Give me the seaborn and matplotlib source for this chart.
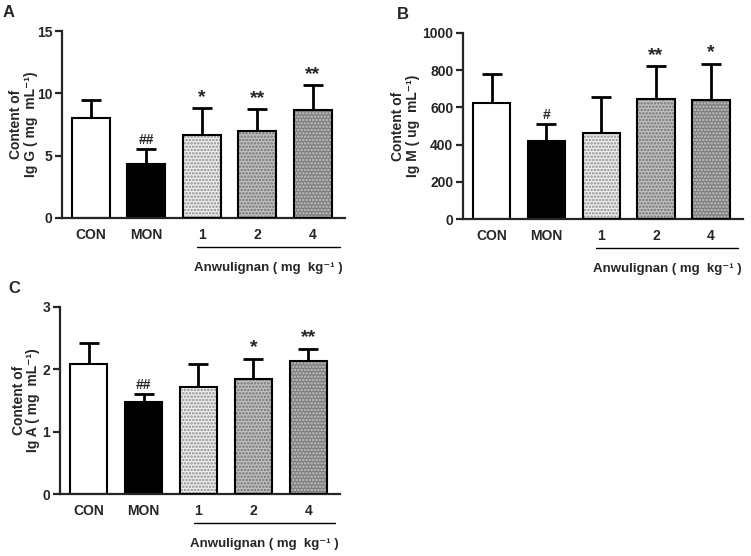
import matplotlib
matplotlib.use('Agg')
import matplotlib.pyplot as plt
from matplotlib.patches import Rectangle
import pandas as pd
import seaborn as sns

sns.set_style('ticks')
plt.rcParams['font.family'] = ['Liberation Sans', 'DejaVu Sans']
plt.rcParams['font.weight'] = 'bold'
plt.rcParams['hatch.linewidth'] = 1.2

groups = ['CON', 'MON', '1', '2', '4']

igg_mean = [8.0, 4.3, 6.65, 7.0, 8.65]
igg_sd = [1.45, 1.2, 2.15, 1.75, 2.0]
igg_mark = ['', '##', '*', '**', '**']

igm_mean = [625, 420, 460, 645, 640]
igm_sd = [155, 90, 195, 175, 195]
igm_mark = ['', '#', '', '**', '*']

iga_mean = [2.08, 1.47, 1.72, 1.85, 2.14]
iga_sd = [0.34, 0.13, 0.36, 0.32, 0.19]
iga_mark = ['', '##', '', '*', '**']

face = ['white', 'black', '#efefef', '#c2c2c2', '#7c7c7c']
dots = [None, None, '#8a8a8a', '#6e6e6e', '#c6c6c6']


def panel(ax, mean, sd, mark, ymax, step, ylabel, letter, marg, labx):
    df = pd.DataFrame({'group': groups, 'value': mean})
    sns.barplot(data=df, x='group', y='value', hue='group', palette=face,
                legend=False, errorbar=None, width=0.68, ax=ax,
                edgecolor='black', linewidth=1.5, zorder=2)
    for p, dc in zip(ax.patches, dots):
        if dc is not None:
            p.set_hatch('.....')
            p.set_edgecolor(dc)
            p.set_linewidth(0)
            ax.add_patch(Rectangle(p.get_xy(), p.get_width(), p.get_height(),
                                   fill=False, edgecolor='black', lw=1.5, zorder=3))
    ax.errorbar(range(len(groups)), mean, yerr=[[0] * len(sd), sd], fmt='none',
                ecolor='black', elinewidth=2, capsize=7, capthick=2, zorder=1)
    for i, (m, s, t) in enumerate(zip(mean, sd, mark)):
        if t:
            fs = 14 if '*' in t else 10
            ax.text(i, m + s + ymax * 0.012, t, ha='center', va='bottom',
                    fontsize=fs, fontweight='bold')
    ax.set_ylim(0, ymax)
    ax.set_yticks(range(0, ymax + 1, step))
    ax.set_xlim(-0.52, 4.58)
    ax.set_xlabel('')
    ax.set_ylabel(ylabel, fontsize=10, fontweight='bold', linespacing=1.05)
    ax.yaxis.set_label_coords(labx, 0.5)
    for s in ['left', 'bottom']:
        ax.spines[s].set_linewidth(1.6)
    sns.despine(ax=ax)
    ax.tick_params(axis='y', labelsize=10, width=1.6, length=5, pad=2)
    ax.tick_params(axis='x', labelsize=10, length=0, pad=7)
    for lb in ax.get_xticklabels() + ax.get_yticklabels():
        lb.set_fontweight('bold')
    # bracket for Anwulignan doses
    ax.plot([1.91, 4.49], [-0.155, -0.155], color='black', lw=1,
            transform=ax.get_xaxis_transform(), clip_on=False)
    ax.text(3.2, -0.268, 'Anwulignan ( mg  kg\u207b\u00b9 )',
            transform=ax.get_xaxis_transform(), ha='center', va='center',
            fontsize=9.5, fontweight='bold')
    ax.text(marg, 1.06, letter, transform=ax.transAxes, fontsize=12,
            fontweight='bold', ha='left', va='bottom')


fig = plt.figure(figsize=(7.51, 5.56), dpi=100)
ax1 = fig.add_axes([0.0826, 0.608, 0.3766, 0.336])
ax2 = fig.add_axes([0.6165, 0.606, 0.3725, 0.335])
ax3 = fig.add_axes([0.080, 0.1115, 0.373, 0.3365])

panel(ax1, igg_mean, igg_sd, igg_mark, 15, 5,
      'Content of\nIg G ( mg  mL\u207b\u00b9)', 'A', -0.21, -0.085)
panel(ax2, igm_mean, igm_sd, igm_mark, 1000, 200,
      'Content of\nIg M ( ug  mL\u207b\u00b9)', 'B', -0.235, -0.154)
panel(ax3, iga_mean, iga_sd, iga_mark, 3, 1,
      'Content of\nIg A ( mg  mL\u207b\u00b9)', 'C', -0.185, -0.071)

fig.savefig('out.png', dpi=100)
